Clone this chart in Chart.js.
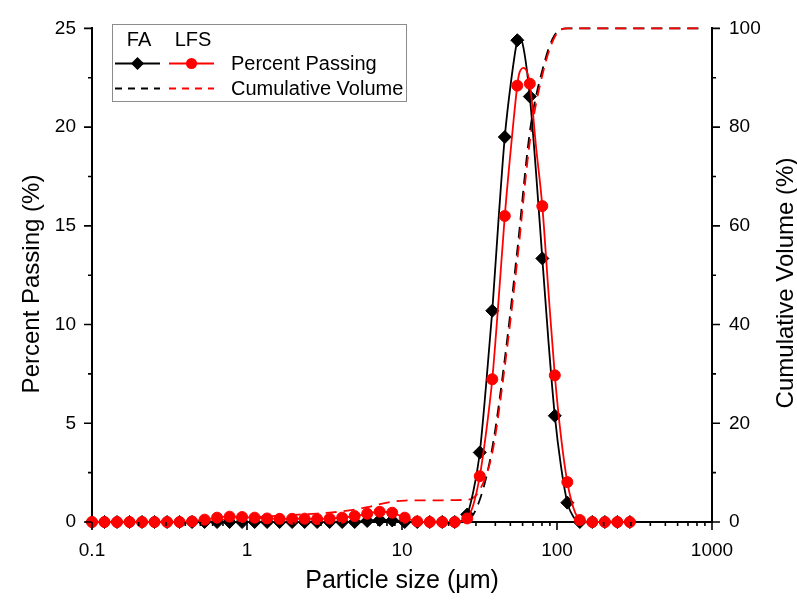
<!DOCTYPE html>
<html>
<head>
<meta charset="utf-8">
<title>Particle size distribution</title>
<script src="https://cdn.jsdelivr.net/npm/chart.js@4/dist/chart.umd.min.js"></script>
<style>
  html, body { margin: 0; padding: 0; background: #fff; }
  #wrap { width: 797px; height: 605px; }
</style>
</head>
<body>
<div id="wrap"><canvas id="c" width="797" height="605"></canvas></div>
<script>
// Bin centres of the laser-diffraction analysis (µm)
const sizes = [0.1, 0.1204, 0.145, 0.1746, 0.2103, 0.2532, 0.305, 0.3672, 0.4422, 0.5326,
  0.6412, 0.7722, 0.9298, 1.12, 1.348, 1.624, 1.955, 2.354, 2.835, 3.414,
  4.111, 4.951, 5.962, 7.179, 8.646, 10.41, 12.54, 15.1, 18.18, 21.89,
  26.36, 31.75, 38.23, 46.04, 55.44, 66.77, 80.4, 96.8, 116.6, 140.4,
  169, 203.6, 245.1, 295.2];

// Percent passing per bin (%)
const faPassing = [0, 0, 0, 0, 0, 0, 0, 0, 0, 0,
  0, 0, 0, 0, 0, 0, 0, 0, 0, 0,
  0, 0, 0.05, 0.1, 0.08, 0, 0, 0, 0, 0,
  0.38, 3.52, 10.7, 19.5, 24.4, 21.55, 13.35, 5.38, 0.98, 0,
  0, 0, 0, 0];
const lfsPassing = [0, 0, 0, 0, 0, 0, 0, 0, 0.03, 0.12,
  0.22, 0.27, 0.25, 0.22, 0.18, 0.16, 0.16, 0.17, 0.15, 0.17,
  0.22, 0.3, 0.42, 0.52, 0.47, 0.22, 0.03, 0, 0, 0,
  0.18, 2.32, 7.23, 15.5, 22.1, 22.2, 16.0, 7.43, 2.02, 0.1,
  0, 0, 0, 0];

// Smoothed distribution curves (finer sampling around the peak)
const curveSizes = [0.1, 0.1204, 0.145, 0.1746, 0.2103, 0.2532, 0.305, 0.3672, 0.4422, 0.5326,
  0.6412, 0.7722, 0.9298, 1.12, 1.348, 1.624, 1.955, 2.354, 2.835, 3.414,
  4.111, 4.951, 5.962, 7.179, 8.646, 10.41, 12.54, 15.1, 18.18, 21.89,
  24.03, 26.36, 28.93, 31.75, 34.84, 38.23, 41.95, 46.04, 50.51, 55.44,
  57.0, 60.83, 66.77, 73.25, 80.4, 88.2, 96.8, 106.2, 116.6, 127.9,
  140.4, 154.0, 169, 203.6, 245.1, 295.2];
const faCurve = [0, 0, 0, 0, 0, 0, 0, 0, 0, 0,
  0, 0, 0, 0, 0, 0, 0, 0, 0, 0,
  0, 0, 0.05, 0.1, 0.08, 0, 0, 0, 0, 0,
  0.05, 0.38, 1.6, 3.52, 6.9, 10.7, 15.3, 19.5, 22.3, 24.4,
  24.6, 24.0, 21.55, 17.7, 13.35, 9.1, 5.38, 2.8, 0.98, 0.25,
  0, 0, 0, 0, 0, 0];
const lfsCurve = [0, 0, 0, 0, 0, 0, 0, 0, 0.03, 0.12,
  0.22, 0.27, 0.25, 0.22, 0.18, 0.16, 0.16, 0.17, 0.15, 0.17,
  0.22, 0.3, 0.42, 0.52, 0.47, 0.22, 0.03, 0, 0, 0,
  0.03, 0.18, 0.9, 2.32, 4.5, 7.23, 11.2, 15.5, 19.0, 22.1,
  22.7, 23.0, 22.2, 19.0, 16.0, 11.6, 7.43, 4.3, 2.02, 0.7,
  0.1, 0, 0, 0, 0, 0];

// Cumulative volume (%), right axis
const cumSizes = [0.1, 0.1204, 0.145, 0.1746, 0.2103, 0.2532, 0.305, 0.3672, 0.4422, 0.5326,
  0.6412, 0.7722, 0.9298, 1.12, 1.348, 1.624, 1.955, 2.354, 2.835, 3.414,
  4.111, 4.951, 5.962, 7.179, 8.646, 10.41, 12.54, 15.1, 18.18, 21.89,
  26.36, 31.75, 38.23, 46.04, 55.44, 66.77, 80.4, 96.8, 116.6, 140.4,
  169, 203.6, 245.1, 295.2, 355.4, 428, 515.4, 620.6, 747.4, 900.1];
const faCumulative = [0, 0, 0, 0, 0, 0, 0, 0, 0, 0,
  0, 0, 0, 0, 0, 0, 0, 0, 0, 0,
  0, 0, 0, 0, 0, 0, 0, 0, 0, 0,
  0.3, 4.5, 15, 33, 55, 79, 91.5, 98.7, 100, 100,
  100, 100, 100, 100, 100, 100, 100, 100, 100, 100];
const lfsCumulative = [0, 0, 0, 0, 0, 0, 0, 0, 0, 0.1,
  0.3, 0.55, 0.8, 1.0, 1.15, 1.3, 1.45, 1.55, 1.7, 1.9,
  2.15, 2.5, 3.0, 3.6, 4.1, 4.35, 4.4, 4.4, 4.4, 4.45,
  4.5, 6.5, 14, 31.5, 53, 77, 90.5, 98.3, 100, 100,
  100, 100, 100, 100, 100, 100, 100, 100, 100, 100];

// Axis ticks
const xTicks = [0.1, 1, 10, 100, 1000];
const xTickLabels = ['0.1', '1', '10', '100', '1000'];

const FONT = '"Liberation Sans", Arial, Helvetica, sans-serif';
const RED = '#ff0000';
const BLACK = '#000000';
const DASH = [11, 7];

function pts(xs, ys) { return xs.map((x, i) => ({ x: x, y: ys[i] })); }

// Path length of a drawn line element, used to keep the two dashed
// curves in step where they run together along the 100 % level.
function pathLength(meta) {
  let len = 0;
  const p = meta.data;
  for (let i = 1; i < p.length; i++) {
    len += Math.hypot(p[i].x - p[i - 1].x, p[i].y - p[i - 1].y);
  }
  return len;
}

const dashSync = {
  id: 'dashSync',
  beforeDatasetsDraw(chart) {
    const lfs = chart.getDatasetMeta(4), fa = chart.getDatasetMeta(5);
    if (!lfs.dataset || !fa.dataset) return;
    const period = DASH[0] + DASH[1];
    const diff = pathLength(lfs) - pathLength(fa);
    let off = diff % period;
    if (off < 0) off += period;
    fa.dataset.options.borderDashOffset = off;
  }
};

// Outward tick marks, axis titles and the two-column legend
const decorations = {
  id: 'decorations',
  afterDraw(chart) {
    const { ctx, chartArea: a, scales } = chart;
    ctx.save();
    ctx.strokeStyle = BLACK;
    ctx.lineWidth = 1.6;
    ctx.beginPath();
    for (let k = -1; k <= 3; k++) {
      for (let m = 1; m <= 9; m++) {
        const v = m * Math.pow(10, k);
        if (v > 1000.001) continue;
        const px = scales.x.getPixelForValue(v);
        const len = m === 1 ? 8 : 4;
        ctx.moveTo(px, a.bottom);
        ctx.lineTo(px, a.bottom + len);
      }
    }
    for (let v = 0; v <= 25.001; v += 2.5) {
      const py = scales.y.getPixelForValue(v);
      const len = (Math.round(v * 10) % 50 === 0) ? 8 : 4;
      ctx.moveTo(a.left - len, py);
      ctx.lineTo(a.left, py);
    }
    for (let v = 0; v <= 100; v += 10) {
      const py = scales.y2.getPixelForValue(v);
      const len = (v % 20 === 0) ? 8 : 4;
      ctx.moveTo(a.right, py);
      ctx.lineTo(a.right + len, py);
    }
    ctx.stroke();

    // axis titles
    ctx.fillStyle = BLACK;
    ctx.textAlign = 'center';
    ctx.textBaseline = 'middle';
    ctx.font = '25px ' + FONT;
    ctx.fillText('Particle size (\u03bcm)', (a.left + a.right) / 2, 581);
    ctx.font = '24px ' + FONT;
    ctx.save();
    ctx.translate(32, 284);
    ctx.rotate(-Math.PI / 2);
    ctx.fillText('Percent Passing (%)', 0, 0);
    ctx.restore();
    ctx.save();
    ctx.translate(786, 283);
    ctx.rotate(-Math.PI / 2);
    ctx.fillText('Cumulative Volume (%)', 0, 0);
    ctx.restore();

    // legend
    const bx = 112.5, by = 24.5, bw = 294, bh = 77;
    ctx.fillStyle = '#ffffff';
    ctx.fillRect(bx, by, bw, bh);
    ctx.strokeStyle = '#8c8c8c';
    ctx.lineWidth = 1;
    ctx.strokeRect(bx, by, bw, bh);

    ctx.fillStyle = BLACK;
    ctx.font = '20px ' + FONT;
    ctx.textAlign = 'center';
    ctx.fillText('FA', 139, 40);
    ctx.fillText('LFS', 193, 40);
    ctx.textAlign = 'left';
    ctx.fillText('Percent Passing', 231, 64);
    ctx.fillText('Cumulative Volume', 231, 89);

    const r1 = 63.5, r2 = 88.5;
    ctx.lineWidth = 1.8;
    ctx.setLineDash([]);
    ctx.strokeStyle = BLACK;
    ctx.beginPath(); ctx.moveTo(115, r1); ctx.lineTo(160, r1); ctx.stroke();
    ctx.strokeStyle = RED;
    ctx.beginPath(); ctx.moveTo(169, r1); ctx.lineTo(214, r1); ctx.stroke();
    // diamond marker
    ctx.fillStyle = BLACK;
    ctx.beginPath();
    ctx.moveTo(137.5, r1 - 6.5); ctx.lineTo(144, r1); ctx.lineTo(137.5, r1 + 6.5); ctx.lineTo(131, r1);
    ctx.closePath(); ctx.fill();
    // circle marker
    ctx.fillStyle = RED;
    ctx.beginPath(); ctx.arc(191.5, r1, 5.5, 0, Math.PI * 2); ctx.fill();

    ctx.setLineDash([7, 6]);
    ctx.strokeStyle = BLACK;
    ctx.beginPath(); ctx.moveTo(115, r2); ctx.lineTo(160, r2); ctx.stroke();
    ctx.strokeStyle = RED;
    ctx.beginPath(); ctx.moveTo(169, r2); ctx.lineTo(214, r2); ctx.stroke();
    ctx.restore();
  }
};

const axisBorder = { display: true, color: BLACK, width: 2 };
const noGrid = { display: true, drawOnChartArea: false, drawTicks: false };

new Chart(document.getElementById('c'), {
  type: 'line',
  data: {
    datasets: [
      {
        label: 'LFS percent passing', data: pts(sizes, lfsPassing), yAxisID: 'y',
        showLine: false, pointStyle: 'circle', pointRadius: 5.5,
        pointBackgroundColor: RED, pointBorderColor: RED, pointBorderWidth: 1,
        order: 0, clip: false
      },
      {
        label: 'LFS curve', data: pts(curveSizes, lfsCurve), yAxisID: 'y',
        borderColor: RED, borderWidth: 1.8, pointRadius: 0,
        cubicInterpolationMode: 'monotone', order: 1, clip: false
      },
      {
        label: 'FA percent passing', data: pts(sizes, faPassing), yAxisID: 'y',
        showLine: false, pointStyle: 'rectRot', pointRadius: 6.5,
        pointBackgroundColor: BLACK, pointBorderColor: BLACK, pointBorderWidth: 1,
        order: 2, clip: false
      },
      {
        label: 'FA curve', data: pts(curveSizes, faCurve), yAxisID: 'y',
        borderColor: BLACK, borderWidth: 1.8, pointRadius: 0,
        cubicInterpolationMode: 'monotone', order: 3, clip: false
      },
      {
        label: 'LFS cumulative', data: pts(cumSizes, lfsCumulative), yAxisID: 'y2',
        borderColor: RED, borderWidth: 1.8, borderDash: DASH, pointRadius: 0,
        cubicInterpolationMode: 'monotone', order: 4, clip: false
      },
      {
        label: 'FA cumulative', data: pts(cumSizes, faCumulative), yAxisID: 'y2',
        borderColor: BLACK, borderWidth: 1.8, borderDash: DASH, pointRadius: 0,
        cubicInterpolationMode: 'monotone', order: 5, clip: false
      }
    ]
  },
  options: {
    responsive: false,
    animation: false,
    events: [],
    layout: { padding: { top: 22, left: 0, right: 0, bottom: 0 } },
    plugins: { legend: { display: false }, tooltip: { enabled: false }, title: { display: false } },
    scales: {
      x: {
        type: 'logarithmic', position: 'bottom', min: 0.1, max: 1000,
        grid: noGrid, border: axisBorder,
        afterBuildTicks: (scale) => { scale.ticks = xTicks.map(v => ({ value: v })); },
        afterFit: (scale) => { scale.height = 83; },
        ticks: {
          autoSkip: false, maxRotation: 0, padding: 17, color: BLACK,
          font: { family: FONT, size: 19 },
          callback: (v) => {
            const i = xTicks.findIndex(t => Math.abs(t - v) < 1e-9 * Math.max(1, t));
            return i >= 0 ? xTickLabels[i] : '';
          }
        }
      },
      y: {
        type: 'linear', position: 'left', min: 0, max: 25,
        grid: noGrid, border: axisBorder,
        afterFit: (scale) => { scale.width = 92; },
        ticks: { stepSize: 5, padding: 16, color: BLACK, font: { family: FONT, size: 19 } }
      },
      y2: {
        type: 'linear', position: 'right', min: 0, max: 100,
        grid: noGrid, border: axisBorder,
        afterFit: (scale) => { scale.width = 85; },
        ticks: { stepSize: 20, padding: 17, color: BLACK, font: { family: FONT, size: 19 } }
      }
    }
  },
  plugins: [dashSync, decorations]
});
</script>
</body>
</html>
